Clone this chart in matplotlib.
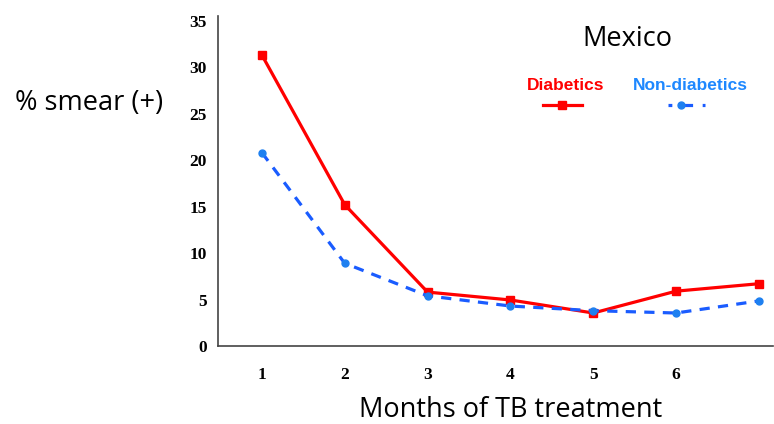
import matplotlib.pyplot as plt
from matplotlib.lines import Line2D

# data
months = [1, 2, 3, 4, 5, 6, 7]
tick_labels = ['1', '2', '3', '4', '5', '6']
diabetics = [31.3, 15.2, 5.8, 4.95, 3.55, 5.9, 6.7]
non_diabetics = [20.8, 8.9, 5.4, 4.3, 3.8, 3.55, 4.85]

RED = '#ff0000'
BLUE_LINE = '#1a5cff'
BLUE_MARK = '#1e80f0'
BLUE_TEXT = '#1e88ff'

fig = plt.figure(figsize=(7.74, 4.24), dpi=100)
ax = fig.add_axes([218 / 774, 78 / 424, 555 / 774, 330 / 424])

ax.plot(months, diabetics, '-', color=RED, lw=2.3,
        marker='s', ms=5.5, mfc=RED, mec=RED)
ax.plot(months, non_diabetics, color=BLUE_LINE, lw=2.3, dashes=(3.2, 2.6),
        marker='o', ms=5, mfc=BLUE_MARK, mec=BLUE_MARK)

ax.set_xlim(0.47, 7.17)
ax.set_ylim(0, 35.5)
ax.set_xticks(months[:6])
ax.set_xticklabels(tick_labels)
ax.set_yticks([0, 5, 10, 15, 20, 25, 30, 35])
ax.tick_params(length=0, pad=15)
ax.tick_params(axis='y', pad=8)
for lab in ax.get_xticklabels() + ax.get_yticklabels():
    lab.set_fontfamily('Liberation Serif')
    lab.set_fontweight('bold')
    lab.set_fontsize(12.5)

for s in ['top', 'right']:
    ax.spines[s].set_visible(False)
for s in ['left', 'bottom']:
    ax.spines[s].set_color('#444444')
    ax.spines[s].set_linewidth(1.2)

# labels
fig.text(15 / 774, 1 - 103 / 424, '% smear (+)', family='Open Sans',
         fontsize=19.5, va='center', ha='left')
fig.text(511 / 774, 1 - 410 / 424, 'Months of TB treatment', family='Open Sans',
         fontsize=19.5, va='center', ha='center')
fig.text(627 / 774, 1 - 39 / 424, 'Mexico', family='Open Sans',
         fontsize=19.5, va='center', ha='center')

# legend, text above sample lines
fig.text(566 / 774, 1 - 86 / 424, 'Diabetics', family='Liberation Sans',
         fontweight='bold', color=RED, fontsize=12.5, va='center', ha='center')
fig.text(690 / 774, 1 - 86 / 424, 'Non-diabetics', family='Liberation Sans',
         fontweight='bold', color=BLUE_TEXT, fontsize=12.5, va='center', ha='center')
y_leg = 1 - 105 / 424
fig.add_artist(Line2D([543 / 774, 582 / 774], [y_leg, y_leg], color=RED, lw=2.3))
fig.add_artist(Line2D([562 / 774], [y_leg], marker='s', ms=5.5, color=RED))
fig.add_artist(Line2D([668 / 774, 705 / 774], [y_leg, y_leg], color=BLUE_LINE,
                      lw=2.3, dashes=(1.2, 3.5, 3, 3)))
fig.add_artist(Line2D([681 / 774], [y_leg], marker='o', ms=5, color=BLUE_MARK))

fig.savefig('out.png', dpi=100)
